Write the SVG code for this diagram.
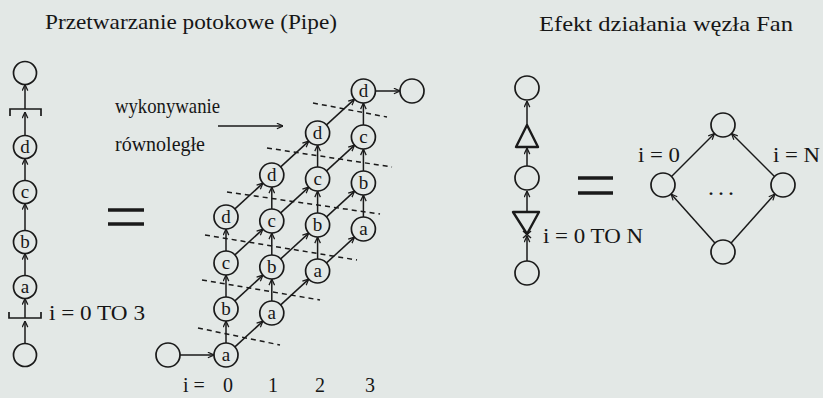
<svg xmlns="http://www.w3.org/2000/svg" width="823" height="398" viewBox="0 0 823 398">
<defs>
<style>
.n{fill:none;stroke:#1a1a1a;stroke-width:1.7}
.e{fill:none;stroke:#1a1a1a;stroke-width:1.5}
.a{marker-end:url(#ah)}
.d{fill:none;stroke:#1a1a1a;stroke-width:1.5;stroke-dasharray:5 4}
.t{font-family:"Liberation Serif","Times New Roman",serif;fill:#161616}
.l{font-family:"Liberation Serif","Times New Roman",serif;fill:#161616;font-size:19px;text-anchor:middle}
.eq{stroke:#1a1a1a;stroke-width:3.5}
.tri{fill:none;stroke:#1a1a1a;stroke-width:2.4;stroke-linejoin:round}
</style>
<marker id="ah" viewBox="0 0 8 8" refX="7.5" refY="4" markerWidth="7" markerHeight="7" markerUnits="userSpaceOnUse" orient="auto">
<path d="M0.5,0.8 L7.5,4 L0.5,7.2" fill="none" stroke="#1a1a1a" stroke-width="1.4"/>
</marker>
</defs>
<rect x="0" y="0" width="823" height="398" fill="#e3e8e6"/>

<!-- titles -->
<text class="t" x="45" y="29" font-size="22" textLength="292" lengthAdjust="spacingAndGlyphs">Przetwarzanie potokowe (Pipe)</text>
<text class="t" x="539" y="31" font-size="21" textLength="254" lengthAdjust="spacingAndGlyphs">Efekt działania  węzła Fan</text>

<!-- left pipe column -->
<g id="pipe-top"><circle class="n" cx="25" cy="73" r="11.5"/></g>
<g id="pipe-bracket-top"><path class="n" d="M10,116 V109 H41 V116"/></g>
<g id="pipe-d"><circle class="n" cx="25" cy="147" r="11.5"/><text class="l" x="25" y="153">d</text></g>
<g id="pipe-c"><circle class="n" cx="25" cy="192" r="11.5"/><text class="l" x="25" y="198">c</text></g>
<g id="pipe-b"><circle class="n" cx="25" cy="242" r="11.5"/><text class="l" x="25" y="248">b</text></g>
<g id="pipe-a"><circle class="n" cx="25" cy="287" r="11.5"/><text class="l" x="25" y="293">a</text></g>
<g id="pipe-bracket-bottom"><path class="n" d="M9,312 V318 H41 V312"/></g>
<g id="pipe-bottom"><circle class="n" cx="25" cy="355" r="11.5"/></g>
<text class="t" x="49" y="320" font-size="22" textLength="96" lengthAdjust="spacingAndGlyphs">i = 0 TO 3</text>

<!-- equals signs -->
<line class="eq" x1="108" y1="210" x2="144" y2="210"/>
<line class="eq" x1="108" y1="224" x2="144" y2="224"/>
<line class="eq" x1="578" y1="178" x2="613" y2="178"/>
<line class="eq" x1="578" y1="193" x2="613" y2="193"/>

<!-- parallel label -->
<text class="t" x="115" y="113" font-size="22" textLength="105" lengthAdjust="spacingAndGlyphs">wykonywanie</text>
<text class="t" x="115" y="151" font-size="22" textLength="90" lengthAdjust="spacingAndGlyphs">równoległe</text>

<!-- grid nodes -->
<g id="start"><circle class="n" cx="168" cy="355" r="12"/></g>
<g id="a0"><circle class="n" cx="226" cy="355" r="12"/><text class="l" x="226" y="361">a</text></g>
<g id="b0"><circle class="n" cx="226" cy="309" r="12"/><text class="l" x="226" y="315">b</text></g>
<g id="c0"><circle class="n" cx="226" cy="263" r="12"/><text class="l" x="226" y="269">c</text></g>
<g id="d0"><circle class="n" cx="226" cy="217" r="12"/><text class="l" x="226" y="223">d</text></g>
<g id="a1"><circle class="n" cx="271.8" cy="313" r="12"/><text class="l" x="271.8" y="319">a</text></g>
<g id="b1"><circle class="n" cx="271.8" cy="267" r="12"/><text class="l" x="271.8" y="273">b</text></g>
<g id="c1"><circle class="n" cx="271.8" cy="221" r="12"/><text class="l" x="271.8" y="227">c</text></g>
<g id="d1"><circle class="n" cx="271.8" cy="175" r="12"/><text class="l" x="271.8" y="181">d</text></g>
<g id="a2"><circle class="n" cx="317.6" cy="271" r="12"/><text class="l" x="317.6" y="277">a</text></g>
<g id="b2"><circle class="n" cx="317.6" cy="225" r="12"/><text class="l" x="317.6" y="231">b</text></g>
<g id="c2"><circle class="n" cx="317.6" cy="179" r="12"/><text class="l" x="317.6" y="185">c</text></g>
<g id="d2"><circle class="n" cx="317.6" cy="133" r="12"/><text class="l" x="317.6" y="139">d</text></g>
<g id="a3"><circle class="n" cx="363.4" cy="229" r="12"/><text class="l" x="363.4" y="235">a</text></g>
<g id="b3"><circle class="n" cx="363.4" cy="183" r="12"/><text class="l" x="363.4" y="189">b</text></g>
<g id="c3"><circle class="n" cx="363.4" cy="137" r="12"/><text class="l" x="363.4" y="143">c</text></g>
<g id="d3"><circle class="n" cx="363.4" cy="91" r="12"/><text class="l" x="363.4" y="97">d</text></g>
<g id="end"><circle class="n" cx="412" cy="91" r="12"/></g>

<text class="t" x="183" y="392" font-size="20">i =</text>
<text class="t" x="228" y="392" font-size="20" text-anchor="middle">0</text>
<text class="t" x="273" y="392" font-size="20" text-anchor="middle">1</text>
<text class="t" x="320" y="392" font-size="20" text-anchor="middle">2</text>
<text class="t" x="370" y="392" font-size="20" text-anchor="middle">3</text>

<!-- Fan column -->
<g id="fan-top"><circle class="n" cx="527" cy="88" r="12"/></g>
<g id="fan-join"><path class="tri" d="M527,125 L516,147 L538,147 Z"/></g>
<g id="fan-mid"><circle class="n" cx="527" cy="178" r="12"/></g>
<g id="fan-split"><path class="tri" d="M513,212 L539,212 L527,234 Z"/><path class="e" d="M523,231 L531,238 M531,231 L523,238"/></g>
<g id="fan-bottom"><circle class="n" cx="527" cy="273" r="12"/></g>
<text class="t" x="543" y="243" font-size="21" textLength="100" lengthAdjust="spacingAndGlyphs">i = 0 TO N</text>

<!-- diamond -->
<g id="dia-top"><circle class="n" cx="723" cy="125" r="12"/></g>
<g id="dia-left"><circle class="n" cx="663" cy="185" r="12"/></g>
<g id="dia-right"><circle class="n" cx="783" cy="185" r="12"/></g>
<g id="dia-bottom"><circle class="n" cx="723" cy="252" r="12"/></g>
<text class="t" x="638" y="162" font-size="20" textLength="42" lengthAdjust="spacingAndGlyphs">i = 0</text>
<text class="t" x="773" y="162" font-size="20" textLength="47" lengthAdjust="spacingAndGlyphs">i = N</text>
<text class="t" x="723" y="195" font-size="24" text-anchor="middle" letter-spacing="4">...</text>

<!-- connectors -->
<g id="connectors">
<!-- left pipe -->
<line class="e a" x1="25" y1="343.5" x2="25" y2="321"/>
<line class="e a" x1="25" y1="318" x2="25" y2="298.5"/>
<line class="e a" x1="25" y1="275.5" x2="25" y2="253.5"/>
<line class="e a" x1="25" y1="230.5" x2="25" y2="203.5"/>
<line class="e a" x1="25" y1="180.5" x2="25" y2="158.5"/>
<line class="e a" x1="25" y1="135.5" x2="25" y2="112"/>
<line class="e a" x1="25" y1="109" x2="25" y2="84.5"/>
<!-- parallel arrow -->
<line class="e a" x1="218" y1="126" x2="283" y2="126"/>
<!-- grid -->
<line class="e a" x1="180" y1="355" x2="214" y2="355"/>
<line class="e a" x1="375.4" y1="91" x2="400" y2="91"/>
<line class="e a" x1="234.9" y1="346.9" x2="263" y2="321.1"/>
<line class="e a" x1="280.7" y1="304.9" x2="308.8" y2="279.1"/>
<line class="e a" x1="326.5" y1="262.9" x2="354.6" y2="237.1"/>
<line class="e a" x1="234.9" y1="300.9" x2="263" y2="275.1"/>
<line class="e a" x1="280.7" y1="258.9" x2="308.8" y2="233.1"/>
<line class="e a" x1="326.5" y1="216.9" x2="354.6" y2="191.1"/>
<line class="e a" x1="234.9" y1="254.9" x2="263" y2="229.1"/>
<line class="e a" x1="280.7" y1="212.9" x2="308.8" y2="187.1"/>
<line class="e a" x1="326.5" y1="170.9" x2="354.6" y2="145.1"/>
<line class="e a" x1="234.9" y1="208.9" x2="263" y2="183.1"/>
<line class="e a" x1="280.7" y1="166.9" x2="308.8" y2="141.1"/>
<line class="e a" x1="326.5" y1="124.9" x2="354.6" y2="99.1"/>
<line class="e a" x1="226" y1="343" x2="226" y2="321"/>
<line class="e a" x1="226" y1="297" x2="226" y2="275"/>
<line class="e a" x1="226" y1="251" x2="226" y2="229"/>
<line class="e a" x1="271.8" y1="301" x2="271.8" y2="279"/>
<line class="e a" x1="271.8" y1="255" x2="271.8" y2="233"/>
<line class="e a" x1="271.8" y1="209" x2="271.8" y2="187"/>
<line class="e a" x1="317.6" y1="259" x2="317.6" y2="237"/>
<line class="e a" x1="317.6" y1="213" x2="317.6" y2="191"/>
<line class="e a" x1="317.6" y1="167" x2="317.6" y2="145"/>
<line class="e a" x1="363.4" y1="217" x2="363.4" y2="195"/>
<line class="e a" x1="363.4" y1="171" x2="363.4" y2="149"/>
<line class="e a" x1="363.4" y1="125" x2="363.4" y2="103"/>
<!-- dashed wavefronts -->
<line class="d" x1="198" y1="328" x2="280" y2="345"/>
<line class="d" x1="202" y1="280" x2="320" y2="300"/>
<line class="d" x1="205" y1="235" x2="357" y2="260"/>
<line class="d" x1="227" y1="192" x2="380" y2="214"/>
<line class="d" x1="267" y1="148" x2="392" y2="167"/>
<line class="d" x1="313" y1="103" x2="387" y2="117"/>
<!-- fan column -->
<line class="e a" x1="527" y1="261" x2="527" y2="236"/>
<line class="e a" x1="527" y1="212" x2="527" y2="191"/>
<line class="e a" x1="527" y1="166" x2="527" y2="148"/>
<line class="e a" x1="527" y1="125" x2="527" y2="101"/>
<!-- diamond -->
<line class="e a" x1="671.5" y1="176.5" x2="714.5" y2="133.5"/>
<line class="e a" x1="774.5" y1="176.5" x2="731.5" y2="133.5"/>
<line class="e a" x1="714.9" y1="243" x2="671.1" y2="194"/>
<line class="e a" x1="731.1" y1="243" x2="774.9" y2="194"/>
</g>
</svg>
